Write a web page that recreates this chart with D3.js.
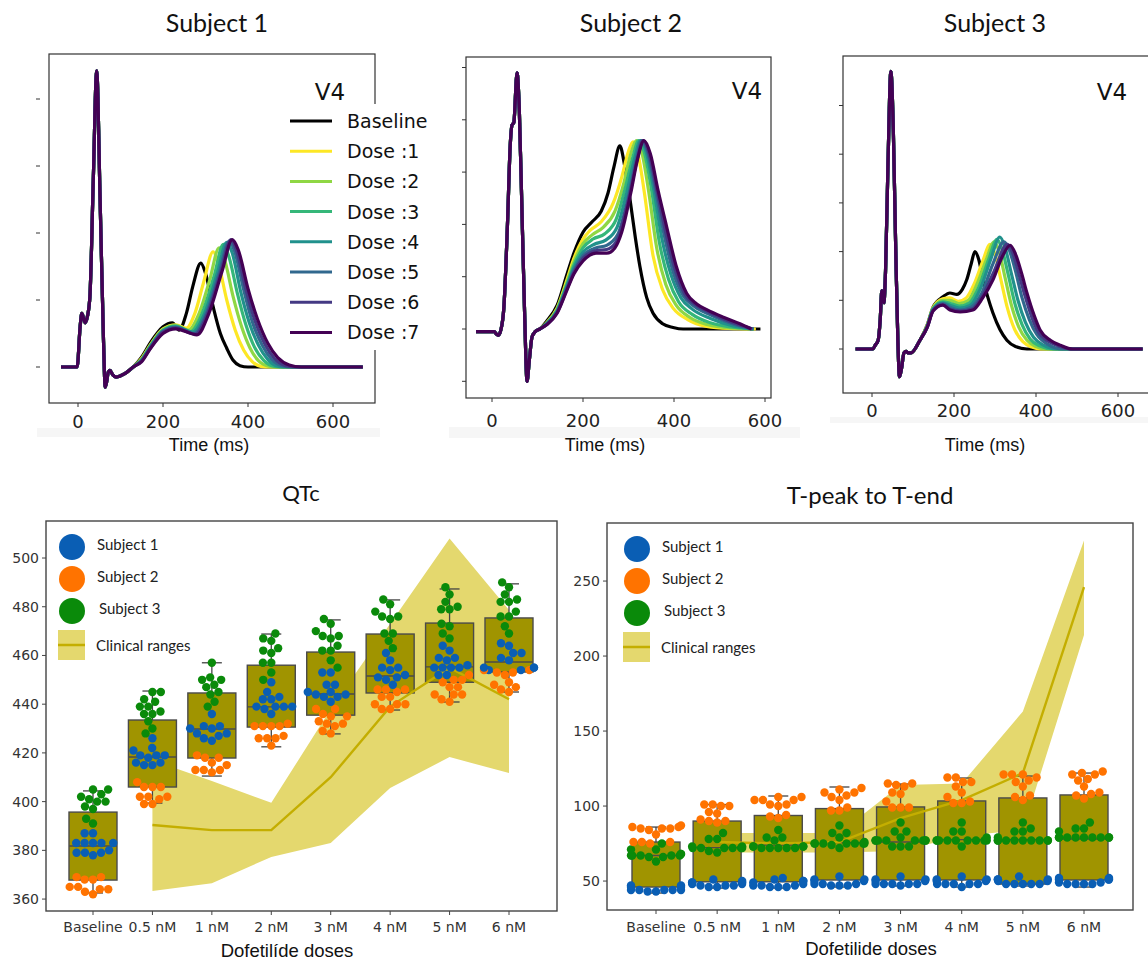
<!DOCTYPE html>
<html><head><meta charset="utf-8">
<script src="https://cdn.jsdelivr.net/npm/d3@7/dist/d3.min.js"></script>
<style>body{margin:0;background:#fff}svg{display:block}</style>
</head><body>
<svg id="c" width="1148" height="960"></svg>
<script>
// ---------------- DATA ----------------
const doseNames = ["Baseline","Dose :1","Dose :2","Dose :3","Dose :4","Dose :5","Dose :6","Dose :7"];
const doseColors = ["#000000","#fde725","#8fd744","#35b779","#21918c","#31688e","#443983","#440154"];

// ECG, [time ms, amplitude in tick units]
const s1QRS = [[-40,0],[-2,0],[5,0.6],[9,0.8],[17,0.66],[22,0.75],[28,1.05],[36,2.8],[44,4.42],[52,2.5],[60,0.4],[64,-0.3],[68,-0.2],[71,-0.08],[75,-0.05],[82,-0.12],[90,-0.15],[110,-0.1]];
const s1T = [
 [[130,0],[150,0.15],[170,0.36],[200,0.6],[222,0.66],[238,0.55],[255,0.8],[270,1.2],[289,1.55],[300,1.4],[318,0.9],[335,0.5],[350,0.28],[365,0.1],[381,0.02],[400,0],[670,0]],
 [[130,0],[150,0.13],[170,0.33],[200,0.57],[230,0.63],[255,0.58],[275,0.8],[295,1.25],[318,1.72],[330,1.55],[350,1.0],[370,0.55],[390,0.25],[410,0.08],[430,0.01],[450,0],[670,0]],
 [[130,0],[150,0.12],[170,0.32],[200,0.56],[230,0.62],[260,0.55],[285,0.8],[310,1.3],[332,1.78],[345,1.6],[365,1.05],[385,0.6],[405,0.28],[425,0.09],[450,0.01],[470,0],[670,0]],
 [[130,0],[150,0.11],[170,0.31],[200,0.55],[230,0.61],[265,0.53],[292,0.8],[320,1.35],[342,1.83],[355,1.65],[375,1.1],[395,0.63],[415,0.3],[437,0.1],[462,0.01],[485,0],[670,0]],
 [[130,0],[150,0.1],[170,0.3],[200,0.54],[230,0.6],[270,0.52],[298,0.8],[327,1.38],[350,1.86],[363,1.7],[383,1.12],[403,0.66],[425,0.32],[447,0.11],[472,0.01],[495,0],[670,0]],
 [[130,0],[150,0.1],[170,0.29],[200,0.53],[230,0.59],[273,0.5],[302,0.8],[332,1.4],[356,1.88],[369,1.72],[390,1.15],[410,0.68],[433,0.33],[455,0.12],[480,0.02],[505,0],[670,0]],
 [[130,0],[150,0.09],[170,0.28],[200,0.52],[230,0.58],[276,0.49],[305,0.8],[336,1.42],[360,1.9],[373,1.74],[395,1.16],[416,0.7],[440,0.34],[462,0.13],[488,0.02],[515,0],[670,0]],
 [[130,0],[150,0.08],[170,0.27],[200,0.5],[230,0.57],[280,0.48],[308,0.8],[339,1.43],[363,1.9],[377,1.75],[400,1.17],[422,0.72],[447,0.35],[470,0.14],[497,0.03],[525,0],[670,0]]
];
const s2QRS = [[-35,-0.05],[5,-0.05],[10,-0.1],[14,-0.12],[20,0],[26,0.4],[34,2.0],[40,3.5],[44,3.9],[48,3.95],[55,4.9],[60,4.2],[66,2.2],[72,0.2],[77,-1.0],[82,-0.6],[88,-0.15],[95,-0.05],[105,0]];
const s2T = [
 [[120,0.15],[143,0.45],[165,1.05],[180,1.45],[200,1.85],[220,2.05],[240,2.25],[255,2.6],[268,3.1],[281,3.5],[292,3.1],[303,2.5],[315,1.75],[325,1.2],[340,0.6],[354,0.3],[375,0.1],[398,0.03],[420,0],[590,0]],
 [[120,0.12],[143,0.4],[165,0.95],[180,1.35],[200,1.72],[215,1.88],[240,2.05],[266,2.4],[285,2.9],[300,3.4],[310,3.58],[322,3.3],[335,2.6],[354,1.4],[375,0.75],[398,0.4],[430,0.18],[472,0.05],[520,0.01],[580,0]],
 [[120,0.11],[143,0.38],[165,0.9],[180,1.28],[200,1.63],[220,1.8],[245,1.95],[270,2.25],[290,2.8],[305,3.35],[318,3.6],[330,3.35],[344,2.65],[362,1.55],[382,0.85],[405,0.45],[435,0.22],[475,0.08],[520,0.02],[575,0]],
 [[120,0.1],[143,0.36],[165,0.86],[180,1.22],[200,1.55],[222,1.72],[248,1.82],[273,2.1],[293,2.7],[310,3.3],[322,3.6],[335,3.37],[350,2.7],[368,1.65],[388,0.95],[410,0.52],[440,0.28],[480,0.12],[525,0.04],[575,0]],
 [[120,0.1],[143,0.34],[165,0.83],[180,1.17],[200,1.47],[225,1.62],[250,1.7],[275,1.95],[296,2.6],[314,3.28],[326,3.6],[339,3.38],[355,2.7],[373,1.75],[393,1.05],[415,0.6],[440,0.38],[480,0.2],[530,0.06],[575,0]],
 [[120,0.09],[143,0.33],[165,0.8],[180,1.12],[200,1.4],[228,1.55],[252,1.6],[276,1.8],[299,2.5],[317,3.25],[329,3.6],[342,3.38],[359,2.68],[378,1.82],[398,1.1],[420,0.64],[445,0.43],[480,0.27],[535,0.08],[575,0]],
 [[120,0.08],[143,0.31],[165,0.77],[180,1.08],[200,1.35],[230,1.5],[252,1.52],[272,1.65],[302,2.55],[318,3.2],[332,3.6],[345,3.36],[362,2.67],[381,1.88],[402,1.15],[424,0.66],[448,0.46],[475,0.33],[540,0.09],[572,0]],
 [[120,0.08],[143,0.3],[165,0.75],[180,1.05],[200,1.3],[230,1.45],[252,1.45],[270,1.55],[285,1.85],[305,2.6],[320,3.25],[334,3.6],[348,3.35],[365,2.65],[384,1.95],[405,1.2],[428,0.68],[450,0.48],[472,0.37],[510,0.22],[545,0.1],[570,0]]
];
const s3QRS = [[-40,0],[2,0],[8,0.08],[15,0.18],[20,0.6],[24,1.2],[29,0.95],[33,1.6],[39,3.8],[46,5.7],[52,4.5],[58,2.0],[63,0.2],[67,-0.57],[72,-0.4],[78,-0.08],[83,-0.05],[88,-0.08],[95,-0.08],[117,0.18]];
const s3T = [
 [[135,0.5],[149,0.86],[173,1.07],[190,1.15],[207,1.12],[220,1.22],[231,1.42],[242,1.75],[251,2.0],[260,1.85],[271,1.42],[283,1.05],[295,0.74],[312,0.4],[329,0.18],[350,0.05],[378,0],[660,0]],
 [[135,0.49],[149,0.85],[173,1.03],[190,1.05],[210,0.98],[230,1.05],[250,1.35],[270,1.8],[288,2.15],[300,1.95],[315,1.4],[330,0.85],[348,0.4],[368,0.15],[390,0.04],[410,0],[660,0]],
 [[135,0.48],[149,0.84],[173,1.0],[190,1.0],[212,0.93],[235,1.0],[257,1.35],[278,1.82],[298,2.2],[310,2.0],[325,1.45],[340,0.9],[358,0.45],[378,0.18],[400,0.05],[425,0],[660,0]],
 [[135,0.47],[149,0.83],[173,0.97],[190,0.94],[213,0.88],[238,0.95],[262,1.3],[285,1.85],[305,2.25],[317,2.05],[333,1.5],[348,0.95],[366,0.5],[386,0.2],[410,0.06],[440,0],[660,0]],
 [[135,0.47],[149,0.82],[173,0.95],[190,0.9],[214,0.84],[240,0.9],[265,1.25],[290,1.85],[312,2.3],[324,2.1],[340,1.55],[356,1.0],[374,0.55],[394,0.24],[418,0.08],[450,0],[660,0]],
 [[135,0.46],[149,0.8],[173,0.93],[190,0.86],[214,0.8],[242,0.86],[268,1.15],[295,1.75],[322,2.2],[334,2.05],[350,1.6],[366,1.05],[384,0.6],[402,0.3],[428,0.1],[465,0],[660,0]],
 [[135,0.45],[149,0.79],[173,0.91],[190,0.82],[215,0.78],[244,0.82],[270,1.1],[298,1.6],[330,2.15],[343,1.98],[358,1.55],[373,1.1],[390,0.65],[405,0.36],[432,0.15],[460,0.05],[485,0],[660,0]],
 [[135,0.45],[149,0.78],[173,0.9],[190,0.8],[215,0.76],[246,0.8],[270,1.05],[295,1.42],[318,1.9],[337,2.13],[350,1.95],[365,1.55],[378,1.15],[395,0.7],[410,0.39],[435,0.18],[459,0.08],[490,0],[660,0]]
];
const timeTicks = [0,200,400,600];

// Dose categories
const cats = ["Baseline","0.5 nM","1 nM","2 nM","3 nM","4 nM","5 nM","6 nM"];
const subjNames = ["Subject 1","Subject 2","Subject 3"];
const subjColors = ["#0a5eb4","#ff7300","#0a8a0a"];

// QTc (ms)
const qtcTicks = [360,380,400,420,440,460,480,500];
const qtcQ1  = [367.8,406,417.9,430.6,435.5,444.6,449,453.2];
const qtcMed = [381.8,418.3,429.8,438.9,444.2,451.6,455.3,457.3];
const qtcQ3  = [395.7,433.5,444.6,456,461.4,468.8,473.3,475.4];
const qtcLo  = [362.5,399.4,410.5,422.5,427.8,437.6,440.9,445];
const qtcHi  = [404.4,445.4,457,468.8,474.6,482.8,487.3,489.4];
const qtcClinMid = [null,390.4,388.3,388.3,410,439,455,442];
const qtcClinLo  = [null,363.3,366.5,377.3,383,405.6,418.3,411.7];
const qtcClinHi  = [null,417,408.5,399.5,438,473,508,478.7];
const qtcS1 = [[387,387,383,383,383,383,383,380,379,379,379,378],[426,422,421,419,419,418,419,416,415,415,416],[436,431,430,430,431,428,427,428,426,425],[449,442,442,443,445,439,439,438,439,439,436],[453,453,448,448,445,443,444,444,443,445,441],[461,458,455,454,455,451,450,452,451,448],[464,462,459,458,459,455,455,455,455,456,452,452],[464,465,461,461,458,459,455,454,455,455,454]];
const qtcS2 = [[369,369,368,368,365,365,364,364,363,362],[408,406,406,406,402,401,402,402,399,399],[419,418,418,416,415,413,412,413,413],[432,431,431,431,431,426,426,427,426,423],[438,436,435,435,438,433,432,432,431,429,428],[445,446,446,446,443,443,440,440,440,438,438],[450,449,450,452,447,447,444,444,444,442,441],[454,454,452,453,453,448,449,446,447,445]];
const qtcS3 = [[405,405,403,402,401,400,398,400,397,393,391],[445,445,442,441,439,439,436,436,437,433,430,428],[457,451,450,450,448,447,445,444,441,439],[469,467,466,461,462,463,457,457,453,450],[475,473,470,468,468,467,462,462,464,458,455],[483,481,478,476,475,476,469,469,466,463],[488,485,482,479,479,480,472,473,469,467],[490,488,485,483,482,482,478,476,476,472,469]];

// T-peak to T-end (ms)
const tpeTicks = [50,100,150,200,250];
const tpeQ1  = [46,49.5,49.5,50.7,50.7,50.7,48,50.7];
const tpeMed = [67,72.3,74,75.6,76,77.6,77.6,78];
const tpeQ3  = [76,90,93.7,98.3,99.4,103.4,105.4,107.4];
const tpeLo  = [42,45.3,45.3,46,46.7,46,46.7,46];
const tpeHi  = [86,101,106.7,112.7,114.7,118.7,120,122];
const tpeClinMid = [null,76,75,76,92,104,122,246];
const tpeClinLo  = [null,69,69,69,70,80,84,214];
const tpeClinHi  = [null,82,82,82,114,115,163,277];
const tpeS1 = [[47,46,44,44,44,43,43,44,44,46,47],[49,49,48,47,47,46,46,47,48,49,51,50],[50,49,47,46,46,47,46,47,48,50,51,52],[51,50,48,48,47,47,47,48,50,51,53],[51,50,48,48,48,48,48,50,51,53,47],[51,50,48,48,48,48,48,50,51,53,46],[51,50,48,48,48,48,48,50,51,53,51],[52,51,49,48,48,48,48,49,51,52,51]];
const tpeS2 = [[86,85,87,85,85,86,76,75,76,76,81,84],[100,101,100,101,96,95,90,89,90,91],[104,106,106,104,104,100,101,101,94,93,92],[109,111,109,112,106,107,104,97,97,99],[113,115,114,115,109,108,103,99,99,99],[116,119,119,116,113,109,106,102,102,103],[121,121,119,121,116,117,113,107,104,106],[121,122,121,123,117,118,113,107,108,109,105]];
const tpeS3 = [[67,67,67,66,66,67,68,68,67,71,71,75,63],[72,72,72,73,72,72,73,72,78,78,82,69,70],[73,72,72,73,73,72,73,72,72,79,79,77,84],[75,75,75,76,75,75,74,75,75,82,82,87,79,72],[77,77,77,77,77,77,77,77,89,83,83,79,73,73,73],[77,77,77,77,77,77,77,77,77,89,83,83,79,73],[77,77,77,77,77,77,77,77,77,89,85,83,83,79],[79,79,79,79,79,79,79,79,89,85,85,83,79]];

// ---------------- DRAW ----------------
const svg = d3.select("#c");
svg.append("rect").attr("width",1148).attr("height",960).attr("fill","#fff");
const TICKF = "'DejaVu Sans', sans-serif";
const TITLEF = "Lato, 'Open Sans', sans-serif";
const LABF = "'Liberation Sans', Arial, sans-serif";

function ecgPanel(o) {
  const g = svg.append("g");
  const x = d3.scaleLinear([0,600], o.xr);
  const y = d3.scaleLinear([0,1], o.yr);
  g.append("rect").attr("x",o.strip[0]).attr("y",o.strip[1]).attr("width",o.strip[2]).attr("height",o.strip[3]).attr("fill","#f6f6f6");
  const line = d3.line().x(d=>x(d[0])).y(d=>y(d[1])).curve(d3.curveMonotoneX);
  o.T.forEach((tw,i)=>{
    g.append("path").attr("d", line(o.QRS.concat(tw))).attr("fill","none")
      .attr("stroke", doseColors[i]).attr("stroke-width",3.2).attr("stroke-linejoin","round");
  });
  g.append("rect").attr("x",o.frame[0]).attr("y",o.frame[1]).attr("width",o.frame[2]-o.frame[0]).attr("height",o.frame[3]-o.frame[1])
   .attr("fill","none").attr("stroke","#333").attr("stroke-width",1.2);
  o.yTicks.forEach(v=>{
    g.append("line").attr("x1",o.yTickX-4).attr("x2",o.yTickX).attr("y1",y(v)).attr("y2",y(v)).attr("stroke","#333").attr("stroke-width",1);
  });
  timeTicks.forEach(v=>{
    g.append("line").attr("x1",x(v)).attr("x2",x(v)).attr("y1",o.frame[3]).attr("y2",o.frame[3]+4).attr("stroke","#333");
    g.append("text").attr("x",x(v)).attr("y",o.tickY).attr("text-anchor","middle").attr("dominant-baseline","central")
     .attr("font-family",TICKF).attr("font-size",18).attr("fill","#222").text(v);
  });
  g.append("text").attr("x",o.xlab[0]).attr("y",o.xlab[1]).attr("text-anchor","middle").attr("dominant-baseline","central")
   .attr("font-family",LABF).attr("font-size",18).attr("fill","#111").text("Time (ms)");
  g.append("text").attr("x",o.title[0]).attr("y",o.title[1]).attr("text-anchor","middle").attr("dominant-baseline","central")
   .attr("font-family",TITLEF).attr("font-size",25).attr("fill","#111").text(o.titleText);
  if (o.legend) {
    g.append("rect").attr("x",283).attr("y",104).attr("width",160).attr("height",246).attr("fill","#fff");
    doseNames.forEach((n,i)=>{
      const yy = 121 + i*30.2;
      g.append("line").attr("x1",290).attr("x2",332).attr("y1",yy).attr("y2",yy).attr("stroke",doseColors[i]).attr("stroke-width",3);
      g.append("text").attr("x",347).attr("y",yy).attr("dominant-baseline","central")
       .attr("font-family",TICKF).attr("font-size",19).attr("fill","#111").text(n);
    });
  }
  g.append("text").attr("x",o.v4[0]).attr("y",o.v4[1]).attr("text-anchor","middle").attr("dominant-baseline","central")
   .attr("font-family",TICKF).attr("font-size",23).attr("fill","#111").text("V4");
}

ecgPanel({QRS:s1QRS, T:s1T, xr:[78,333], yr:[367,300], frame:[49,54,375,403], yTicks:[0,1,2,3,4], yTickX:40,
  tickY:421, xlab:[209,445], title:[217,22], titleText:"Subject 1", legend:true, v4:[330,92], strip:[37,428,343,9]});
ecgPanel({QRS:s2QRS, T:s2T, xr:[492,765], yr:[329,276.7], frame:[466,57,771,398], yTicks:[-1,0,1,2,3,4,5], yTickX:466,
  tickY:420, xlab:[605,445], title:[631,22], titleText:"Subject 2", legend:false, v4:[747,91], strip:[449,427,351,11]});
ecgPanel({QRS:s3QRS, T:s3T, xr:[872,1118], yr:[349,300.3], frame:[843,56,1150,393], yTicks:[0,1,2,3,4,5], yTickX:843,
  tickY:410, xlab:[985,445], title:[995,22], titleText:"Subject 3", legend:false, v4:[1112,92], strip:[830,417,318,6]});

// beeswarm placement (pixels), with seaborn-like gutter at +/- half width
function swarm(items, r, half) {
  const sorted = items.slice().sort((a,b)=>b.py-a.py);
  const placed = [];
  sorted.forEach(p=>{
    const cands=[0];
    placed.forEach(q=>{
      const dy=p.py-q.py;
      if (Math.abs(dy) < 2*r) { const dx=Math.sqrt(4*r*r-dy*dy); cands.push(q.dx+dx, q.dx-dx); }
    });
    cands.sort((a,b)=>Math.abs(a)-Math.abs(b) || a-b);
    for (const c of cands) {
      let ok=true;
      for (const q of placed) { const ddx=c-q.dx, ddy=p.py-q.py; if (ddx*ddx+ddy*ddy < 4*r*r-0.01) {ok=false;break;} }
      if (ok) { p.dx=c; break; }
    }
    placed.push(p);
  });
  placed.forEach(p=>{ p.dx = Math.max(-half, Math.min(half, p.dx)); });
  return placed;
}

const BOX="#a09400", BAND="#e4d86e", CLIN="#c4ae00";

function statPanel(o) {
  const g = svg.append("g");
  const x = d3.scalePoint(cats, o.xr);
  const y = d3.scaleLinear(o.yDom, [o.frame[3], o.frame[1]]);
  const idx = d3.range(cats.length);
  g.append("path").attr("d", d3.area().defined(i=>o.clinLo[i]!=null).x(i=>x(cats[i])).y0(i=>y(o.clinLo[i])).y1(i=>y(o.clinHi[i]))(idx))
    .attr("fill",BAND);
  const bw = 48;
  idx.forEach(i=>{
    const cx = x(cats[i]);
    g.append("line").attr("x1",cx).attr("x2",cx).attr("y1",y(o.q3[i])).attr("y2",y(o.hi[i])).attr("stroke","#444").attr("stroke-width",1.3);
    g.append("line").attr("x1",cx).attr("x2",cx).attr("y1",y(o.q1[i])).attr("y2",y(o.lo[i])).attr("stroke","#444").attr("stroke-width",1.3);
    g.append("line").attr("x1",cx-10).attr("x2",cx+10).attr("y1",y(o.hi[i])).attr("y2",y(o.hi[i])).attr("stroke","#444").attr("stroke-width",1.3);
    g.append("line").attr("x1",cx-10).attr("x2",cx+10).attr("y1",y(o.lo[i])).attr("y2",y(o.lo[i])).attr("stroke","#444").attr("stroke-width",1.3);
    g.append("rect").attr("x",cx-bw/2).attr("y",y(o.q3[i])).attr("width",bw).attr("height",y(o.q1[i])-y(o.q3[i]))
      .attr("fill",BOX).attr("stroke","#4a4a4a").attr("stroke-width",1.4);
    g.append("line").attr("x1",cx-bw/2).attr("x2",cx+bw/2).attr("y1",y(o.med[i])).attr("y2",y(o.med[i])).attr("stroke","#4a4a4a").attr("stroke-width",1.4);
  });
  g.append("path").attr("d", d3.line().defined(i=>o.clinMid[i]!=null).x(i=>x(cats[i])).y(i=>y(o.clinMid[i]))(idx))
    .attr("fill","none").attr("stroke",CLIN).attr("stroke-width",2.4);
  const r=4.2;
  idx.forEach(i=>{
    const items=[];
    o.pts.forEach((arr,s)=>arr[i].forEach(v=>items.push({py:y(v), s})));
    swarm(items, r, 25).forEach(p=>{
      g.append("circle").attr("cx",x(cats[i])+p.dx).attr("cy",p.py).attr("r",r).attr("fill",subjColors[p.s]);
    });
  });
  g.append("rect").attr("x",o.frame[0]).attr("y",o.frame[1]).attr("width",o.frame[2]-o.frame[0]).attr("height",o.frame[3]-o.frame[1])
    .attr("fill","none").attr("stroke","#444").attr("stroke-width",1.4);
  o.yTicks.forEach(v=>{
    g.append("line").attr("x1",o.frame[0]-4).attr("x2",o.frame[0]).attr("y1",y(v)).attr("y2",y(v)).attr("stroke","#444");
    g.append("text").attr("x",o.frame[0]-7).attr("y",y(v)).attr("text-anchor","end").attr("dominant-baseline","central")
      .attr("font-family",TICKF).attr("font-size",14).attr("fill","#333").text(v);
  });
  cats.forEach(c=>{
    g.append("line").attr("x1",x(c)).attr("x2",x(c)).attr("y1",o.frame[3]).attr("y2",o.frame[3]+4).attr("stroke","#444");
    g.append("text").attr("x",x(c)).attr("y",927).attr("text-anchor","middle").attr("dominant-baseline","central")
      .attr("font-family",TICKF).attr("font-size",14).attr("fill","#333").text(c);
  });
  g.append("text").attr("x",o.xlab[0]).attr("y",o.xlab[1]).attr("text-anchor","middle").attr("dominant-baseline","central")
    .attr("font-family",LABF).attr("font-size",18.5).attr("fill","#111").text(o.xlabText);
  g.append("text").attr("x",o.title[0]).attr("y",o.title[1]).attr("text-anchor","middle").attr("dominant-baseline","central")
    .attr("font-family",TITLEF).attr("font-size",o.titleSize).attr("fill","#111").text(o.titleText);
  const L=o.leg;
  subjNames.forEach((n,s)=>{
    const yy = L.y + s*32;
    g.append("circle").attr("cx",L.x).attr("cy",yy).attr("r",13).attr("fill",subjColors[s]);
    g.append("text").attr("x",L.x+25+(s==2?2:0)).attr("y",yy-3).attr("dominant-baseline","central")
      .attr("font-family",TITLEF).attr("font-size",15).attr("fill","#222").text(n);
  });
  const ly = L.y + 3*32 + 2;
  g.append("rect").attr("x",L.x-14).attr("y",ly-15).attr("width",27).attr("height",30).attr("fill",BAND);
  g.append("line").attr("x1",L.x-14).attr("x2",L.x+13).attr("y1",ly).attr("y2",ly).attr("stroke",CLIN).attr("stroke-width",2.5);
  g.append("text").attr("x",L.x+24).attr("y",ly).attr("dominant-baseline","central")
    .attr("font-family",TITLEF).attr("font-size",15).attr("fill","#222").text("Clinical ranges");
}

statPanel({frame:[46,521,557,911], yDom:[355.1,515.2], xr:[93,509], yTicks:qtcTicks,
  q1:qtcQ1, med:qtcMed, q3:qtcQ3, lo:qtcLo, hi:qtcHi, clinMid:qtcClinMid, clinLo:qtcClinLo, clinHi:qtcClinHi,
  pts:[qtcS1,qtcS2,qtcS3], xlab:[287,950], xlabText:"Dofetilíde doses", title:[301,492], titleText:"QTc", titleSize:22,
  leg:{x:72,y:547}});
statPanel({frame:[607,523,1133,910], yDom:[30.7,288.7], xr:[656,1084], yTicks:tpeTicks,
  q1:tpeQ1, med:tpeMed, q3:tpeQ3, lo:tpeLo, hi:tpeHi, clinMid:tpeClinMid, clinLo:tpeClinLo, clinHi:tpeClinHi,
  pts:[tpeS1,tpeS2,tpeS3], xlab:[871,948], xlabText:"Dofetilide doses", title:[870,494], titleText:"T-peak to T-end", titleSize:24,
  leg:{x:637,y:549}});
</script>
</body></html>
